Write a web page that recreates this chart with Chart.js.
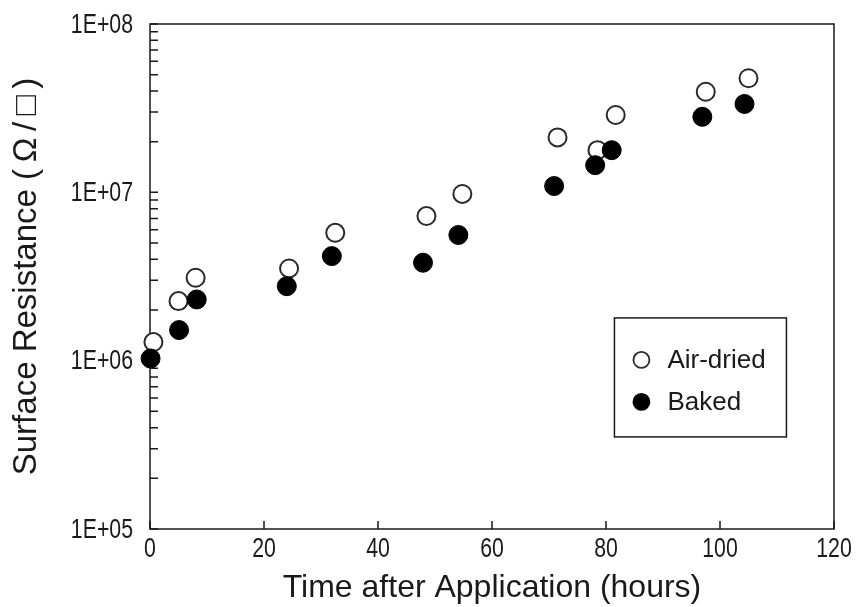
<!DOCTYPE html>
<html><head><meta charset="utf-8">
<script src="https://cdn.jsdelivr.net/npm/chart.js@4.4.1/dist/chart.umd.min.js"></script>
<style>html,body{margin:0;padding:0;background:#fff}</style>
</head><body><canvas id="c" width="862" height="607"></canvas>
<script>
// ---- data ----
const airHours = [0.6, 5.0, 8.0, 24.4, 32.5, 48.5, 54.8, 71.5, 78.5, 81.7, 97.5, 105.0];
const airResistance = [1.29e6, 2.26e6, 3.11e6, 3.53e6, 5.75e6, 7.23e6, 9.78e6, 2.12e7, 1.78e7, 2.88e7, 3.96e7, 4.76e7];
const bakedHours = [0.1, 5.1, 8.2, 24.0, 31.9, 47.9, 54.1, 70.9, 78.1, 81.0, 96.9, 104.3];
const bakedResistance = [1.03e6, 1.52e6, 2.31e6, 2.77e6, 4.18e6, 3.82e6, 5.58e6, 1.09e7, 1.45e7, 1.78e7, 2.81e7, 3.35e7];
const seriesNames = ['Air-dried', 'Baked'];
const xTickValues = [0, 20, 40, 60, 80, 100, 120];
const xTickLabels = ['0', '20', '40', '60', '80', '100', '120'];
const yDecades = [1e5, 1e6, 1e7, 1e8];
const yTickLabels = ['1E+05', '1E+06', '1E+07', '1E+08'];
const yMinorMultipliers = [1, 2, 3, 4, 5, 6, 7, 8, 9];
const xTitle = 'Time after Application (hours)';
const yTitle = 'Surface Resistance (\u2009Ω\u2009/\u2009□\u2009)';

const INK = '#1a1a1a';
const textFont = 'Liberation Sans, Arial, sans-serif';
const TICK_SIZE = 28, TICK_SQUEEZE = 0.76;

const toXY = (xs, ys) => xs.map((x, i) => ({x: x, y: ys[i]}));

function condensedText(ctx, text, x, y, align) {
  ctx.save();
  ctx.translate(x, y);
  ctx.scale(TICK_SQUEEZE, 1);
  ctx.font = TICK_SIZE + 'px ' + textFont;
  ctx.textAlign = align;
  ctx.textBaseline = 'middle';
  ctx.fillStyle = INK;
  ctx.fillText(text, 0, 0);
  ctx.restore();
}

const framePlugin = {
  id: 'frame',
  beforeDatasetsDraw(chart) {
    const {ctx, chartArea: a, scales: {x, y}} = chart;
    ctx.save();
    ctx.strokeStyle = INK;
    ctx.lineWidth = 1.5;
    ctx.strokeRect(a.left, a.top, a.right - a.left, a.bottom - a.top);
    ctx.beginPath();
    const tl = 8;
    xTickValues.forEach(v => {
      const px = x.getPixelForValue(v);
      ctx.moveTo(px, a.bottom); ctx.lineTo(px, a.bottom - tl);
    });
    yDecades.forEach((d, i) => {
      const mults = i === yDecades.length - 1 ? [1] : yMinorMultipliers;
      mults.forEach(m => {
        const py = y.getPixelForValue(m * d);
        ctx.moveTo(a.left, py); ctx.lineTo(a.left + tl, py);
      });
    });
    ctx.stroke();
    ctx.restore();
    // tick labels (condensed face, positioned by the scales)
    xTickValues.forEach((v, i) => condensedText(ctx, xTickLabels[i], x.getPixelForValue(v), a.bottom + 20, 'center'));
    yDecades.forEach((v, i) => condensedText(ctx, yTickLabels[i], a.left - 17, y.getPixelForValue(v) + 1, 'right'));
  },
  afterDraw(chart) {
    const {ctx, chartArea: a} = chart;
    const bx = a.left + (a.right - a.left) * 0.679;
    const by = a.top + (a.bottom - a.top) * 0.582;
    const bw = 172, bh = 119;
    ctx.save();
    ctx.strokeStyle = INK;
    ctx.lineWidth = 1.5;
    ctx.fillStyle = '#fff';
    ctx.fillRect(bx, by, bw, bh);
    ctx.strokeRect(bx, by, bw, bh);
    chart.data.datasets.forEach((ds, i) => {
      const cy = by + 42 + i * 42;
      const cx = bx + 27;
      ctx.beginPath();
      ctx.arc(cx, cy, 8, 0, Math.PI * 2);
      ctx.fillStyle = ds.backgroundColor;
      ctx.fill();
      ctx.lineWidth = 1.8;
      ctx.strokeStyle = ds.borderColor;
      ctx.stroke();
      ctx.fillStyle = INK;
      ctx.font = '26px ' + textFont;
      ctx.textBaseline = 'middle';
      ctx.textAlign = 'left';
      ctx.fillText(ds.label, bx + 53, cy + 1);
    });
    ctx.restore();
  }
};

new Chart(document.getElementById('c'), {
  type: 'scatter',
  data: {
    datasets: [
      {label: seriesNames[0], data: toXY(airHours, airResistance), order: 2,
       pointRadius: 9, pointHoverRadius: 9, pointBorderWidth: 2,
       borderColor: '#2a2a2a', backgroundColor: '#ffffff', clip: false},
      {label: seriesNames[1], data: toXY(bakedHours, bakedResistance), order: 1,
       pointRadius: 9.5, pointHoverRadius: 9.5, pointBorderWidth: 1,
       borderColor: '#000000', backgroundColor: '#000000', clip: false}
    ]
  },
  options: {
    responsive: false, animation: false, devicePixelRatio: 1,
    layout: {padding: {top: 24, right: 28, left: 0, bottom: 0}},
    plugins: {legend: {display: false}, tooltip: {enabled: false}},
    scales: {
      x: {
        type: 'linear', min: 0, max: 120,
        afterBuildTicks: s => { s.ticks = xTickValues.map(v => ({value: v})); },
        ticks: {display: false},
        grid: {display: false, drawTicks: false}, border: {display: false},
        title: {display: true, text: xTitle, font: {family: textFont, size: 32}, color: INK, padding: {top: 0, bottom: 0}},
        afterFit: s => { s.height = 78; }
      },
      y: {
        type: 'logarithmic', min: 1e5, max: 1e8,
        afterBuildTicks: s => { s.ticks = yDecades.map(v => ({value: v})); },
        ticks: {display: false},
        grid: {display: false, drawTicks: false}, border: {display: false},
        title: {display: true, text: yTitle, font: {family: textFont, size: 33}, color: INK, padding: {top: 7}},
        afterFit: s => { s.width = 150; }
      }
    }
  },
  plugins: [framePlugin]
});
</script>
</body></html>
